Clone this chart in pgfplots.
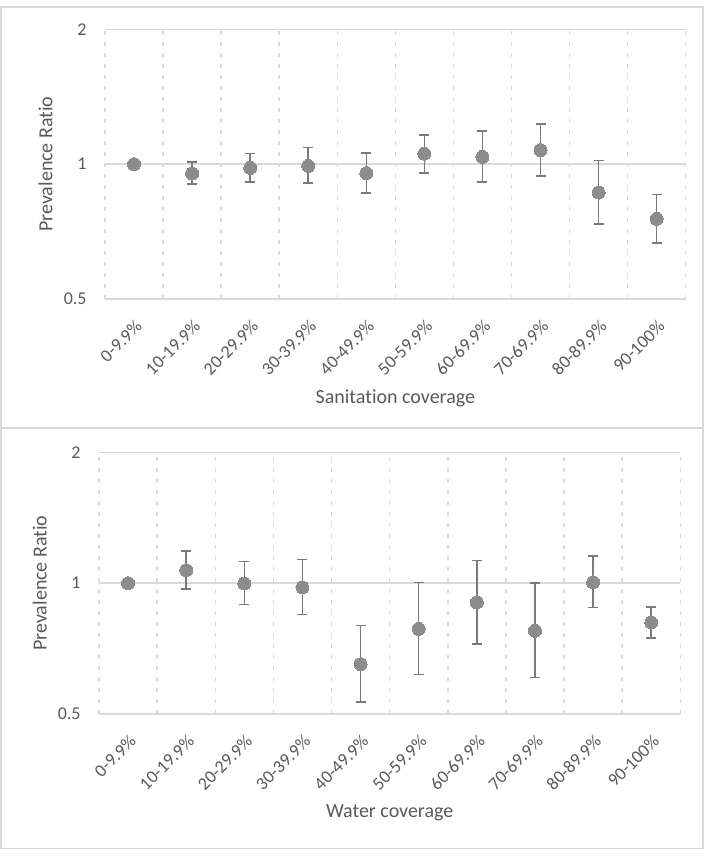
\documentclass[border=0pt]{standalone}
\usepackage{pgfplots}
\pgfplotsset{compat=1.18}
\usepackage{pgfplotstable}
\usepackage{fontspec}
\setmainfont{Carlito}[Ligatures=NoCommon]
\definecolor{txt}{HTML}{595959}
\definecolor{gridc}{HTML}{D9D9D9}
\definecolor{mk}{HTML}{8C8C8C}
\definecolor{eb}{HTML}{7A7A7A}

\pgfplotstableread{
x y
1 1.000
2 0.953
3 0.981
4 0.991
5 0.955
6 1.055
7 1.038
8 1.075
9 0.864
10 0.755
}\sandata
\pgfplotstableread{
x y
1 1.000
2 1.071
3 0.998
4 0.977
5 0.651
6 0.785
7 0.903
8 0.777
9 1.005
10 0.812
}\watdata

\pgfplotsset{panel/.style={
  scale only axis,
  ymin=0.5, ymax=2,
  ytick={0.5,1,2}, yticklabels={0.5,1,2},
  xmin=0.5, xmax=10.5,
  xtick={1,...,10},
  xticklabels={0-9.9\%,10-19.9\%,20-29.9\%,30-39.9\%,40-49.9\%,50-59.9\%,60-69.9\%,70-69.9\%,80-89.9\%,90-100\%},
  minor xtick={0.5,1.5,...,10.5},
  xminorgrids, ymajorgrids,
  minor grid style={gridc, line width=0.75pt, dash pattern=on 2pt off 3.5pt},
  major grid style={gridc, line width=0.75pt},
  axis line style={draw=none},
  major tick length=0pt, minor tick length=0pt,
  tick style={draw=none},
  tick label style={font=\fontsize{9}{10}\selectfont, text=txt},
  label style={font=\fontsize{10}{12}\selectfont, text=txt},
  yticklabel style={anchor=east, inner sep=0pt, xshift=-9pt},
  xticklabel style={xshift=2.5pt, yshift=-12pt, rotate=45, anchor=east, inner sep=0pt},
  clip=false,
}}

\begin{document}
\begin{tikzpicture}
\useasboundingbox (0,0) rectangle (352pt,431.5pt);
\draw[gridc, line width=0.9pt] (0.45pt,217.5pt) rectangle (351.3pt,428pt);
\draw[gridc, line width=0.9pt] (0.45pt,7.25pt) rectangle (351.3pt,217.5pt);

\begin{axis}[ymode=log, log basis y=2, panel,
  at={(52.5pt,282pt)}, anchor=south west,
  width=290.35pt, height=134.85pt,
  xlabel={Sanitation coverage}, ylabel={Prevalence Ratio},
  xlabel style={at={(axis description cs:0.5,-0.3671)}, anchor=center},
  ylabel style={at={(axis description cs:-0.1025,0.5)}, anchor=center},
]
\addplot[eb, line width=0.75pt, mark=-, mark size=2.5pt, unbounded coords=jump] coordinates {
(2,0.902) (2,1.010) (2,nan)
(3,0.912) (3,1.056) (3,nan)
(4,0.907) (4,1.088) (4,nan)
(5,0.863) (5,1.058) (5,nan)
(6,0.956) (6,1.163) (6,nan)
(7,0.913) (7,1.185) (7,nan)
(8,0.940) (8,1.230) (8,nan)
(9,0.735) (9,1.019) (9,nan)
(10,0.667) (10,0.856)
};
\addplot[only marks, mark=*, mark size=3.25pt, mark options={fill=mk, draw=mk, line width=0pt}] table[x=x, y=y] {\sandata};
\end{axis}

\begin{axis}[ymode=log, log basis y=2, panel,
  at={(49.5pt,74.5pt)}, anchor=south west,
  width=290.65pt, height=130.85pt,
  xlabel={Water coverage}, ylabel={Prevalence Ratio},
  xlabel style={at={(axis description cs:0.5,-0.3783)}, anchor=center},
  ylabel style={at={(axis description cs:-0.1020,0.5)}, anchor=center},
]
\addplot[eb, line width=0.75pt, mark=-, mark size=2.5pt, unbounded coords=jump] coordinates {
(2,0.970) (2,1.185) (2,nan)
(3,0.892) (3,1.122) (3,nan)
(4,0.847) (4,1.132) (4,nan)
(5,0.533) (5,0.799) (5,nan)
(6,0.617) (6,1.004) (6,nan)
(7,0.725) (7,1.126) (7,nan)
(8,0.606) (8,1.000) (8,nan)
(9,0.878) (9,1.156) (9,nan)
(10,0.747) (10,0.881)
};
\addplot[only marks, mark=*, mark size=3.25pt, mark options={fill=mk, draw=mk, line width=0pt}] table[x=x, y=y] {\watdata};
\end{axis}
\end{tikzpicture}
\end{document}
